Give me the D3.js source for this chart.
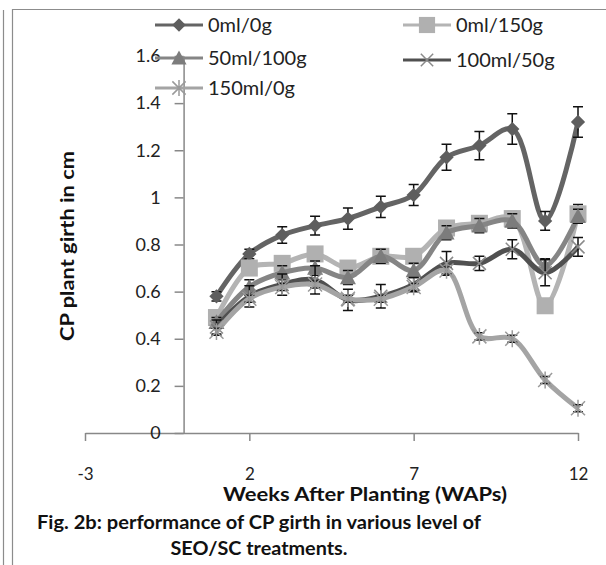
<!DOCTYPE html>
<html><head><meta charset="utf-8">
<script src="https://cdn.jsdelivr.net/npm/d3@7"></script>
<style>body{margin:0;background:#fff}svg{display:block}text{font-family:Lato,"Noto Sans",sans-serif}</style>
</head><body>
<script>
const weeks = [1,2,3,4,5,6,7,8,9,10,11,12];
const seriesNames = ["0ml/0g","0ml/150g","50ml/100g","100ml/50g","150ml/0g"];
const v0ml0g    = [0.58,0.76,0.84,0.88,0.91,0.96,1.01,1.17,1.22,1.29,0.90,1.32];
const e0ml0g    = [0.02,0.02,0.035,0.04,0.045,0.045,0.045,0.055,0.06,0.065,0.04,0.065];
const v0ml150g  = [0.49,0.70,0.72,0.76,0.70,0.75,0.75,0.87,0.89,0.91,0.54,0.93];
const e0ml150g  = [0.02,0.03,0.03,0.03,0.03,0.03,0.03,0.03,0.03,0.03,0.03,0.04];
const v50ml100g = [0.47,0.62,0.68,0.70,0.66,0.75,0.69,0.85,0.88,0.90,0.71,0.92];
const e50ml100g = [0.02,0.03,0.03,0.03,0.03,0.03,0.03,0.03,0.03,0.03,0.03,0.03];
const v100ml50g = [0.45,0.58,0.63,0.65,0.565,0.58,0.63,0.72,0.72,0.78,0.68,0.79];
const e100ml50g = [0.03,0.045,0.045,0.06,0.045,0.05,0.03,0.05,0.03,0.04,0.055,0.04];
const v150ml0g  = [0.43,0.57,0.62,0.63,0.57,0.57,0.62,0.69,0.41,0.40,0.225,0.105];
const e150ml0g  = [0.015,0.015,0.015,0.015,0.015,0.015,0.015,0.015,0.015,0.015,0.015,0.015];
const xTicks = [-3,2,7,12];
const yTicks = [0,0.2,0.4,0.6,0.8,1,1.2,1.4,1.6];
const xTitle = "Weeks After Planting (WAPs)";
const yTitle = "CP plant girth in cm";
const caption = ["Fig. 2b: performance of CP girth in various level of","SEO/SC treatments."];

const values = [v0ml0g,v0ml150g,v50ml100g,v100ml50g,v150ml0g];
const errors = [e0ml0g,e0ml150g,e50ml100g,e100ml50g,e150ml0g];
const styles = [
  {line:"#646464", marker:"diamond", fill:"#5e5e5e"},
  {line:"#b4b4b4", marker:"square", fill:"#b0b0b0"},
  {line:"#858585", marker:"triangle", fill:"#7c7c7c"},
  {line:"#505050", marker:"x", fill:"#8a8a8a"},
  {line:"#a4a4a4", marker:"star", fill:"#9a9a9a"}
];

const W=606,H=565;
const svg=d3.select("body").append("svg").attr("width",W).attr("height",H);

// frame
svg.append("line").attr("x1",3.5).attr("x2",3.5).attr("y1",10).attr("y2",H).attr("stroke","#8c8c8c").attr("stroke-width",1.2);
svg.append("path").attr("d",`M12.5,${H}V9.5H${W}`).attr("fill","none").attr("stroke","#8c8c8c").attr("stroke-width",1.2);

const x=d3.scaleLinear().domain([-3,12]).range([85,578]);
const y=d3.scaleLinear().domain([0,1.6]).range([433,56]);

// x axis
const gx=svg.append("g").attr("transform",`translate(0,${y(0)})`)
  .call(d3.axisBottom(x).tickValues(xTicks).tickSize(8).tickSizeOuter(0).tickFormat(d=>String(d)));
gx.selectAll("text").attr("y",35).attr("dy","0.71em").attr("font-size",17).attr("fill","#222").style("font-family","Lato");
// y axis
const gy=svg.append("g").attr("transform",`translate(${x(0)},0)`)
  .call(d3.axisLeft(y).tickValues(yTicks).tickSize(9).tickSizeOuter(0).tickFormat(d=>String(+d.toFixed(1))));
gy.selectAll("text").attr("x",-23).attr("font-size",18).attr("fill","#222").style("font-family","Lato");
[gx,gy].forEach(g=>{g.selectAll("path,line").attr("stroke","#888").attr("stroke-width",1.5);});

// titles
svg.append("text").attr("x",365).attr("y",501).attr("text-anchor","middle")
  .attr("font-size",18).attr("font-weight","bold").attr("fill","#111")
  .attr("textLength",284).attr("lengthAdjust","spacingAndGlyphs").text(xTitle);
svg.append("text").attr("transform","translate(74,246) rotate(-90)").attr("text-anchor","middle")
  .attr("font-size",19).attr("font-weight","bold").attr("fill","#111")
  .attr("textLength",190).attr("lengthAdjust","spacingAndGlyphs").text(yTitle);
const capLen=[444,177];
caption.forEach((c,i)=>svg.append("text").attr("x",259).attr("y",529+i*26).attr("text-anchor","middle")
  .attr("font-size",18).attr("font-weight","bold").attr("fill","#111")
  .attr("textLength",capLen[i]).attr("lengthAdjust","spacingAndGlyphs").text(c));

function drawMarker(g,type,cx,cy,st,scale){
  const s=scale||1;
  if(type==="diamond"){
    g.append("path").attr("d",d3.symbol(d3.symbolDiamond2?d3.symbolDiamond2:d3.symbolDiamond,130*s*s)()).attr("transform",`translate(${cx},${cy})`).attr("fill",st.fill);
  } else if(type==="square"){
    const h=8.5*s; g.append("rect").attr("x",cx-h).attr("y",cy-h).attr("width",2*h).attr("height",2*h).attr("fill",st.fill);
  } else if(type==="triangle"){
    const h=8*s; g.append("path").attr("d",`M${cx},${cy-h}L${cx+h},${cy+h*0.85}L${cx-h},${cy+h*0.85}Z`).attr("fill",st.fill);
  } else if(type==="x"){
    const h=6.5*s; g.append("path").attr("d",`M${cx-h},${cy-h}L${cx+h},${cy+h}M${cx-h},${cy+h}L${cx+h},${cy-h}`).attr("stroke",st.fill).attr("stroke-width",1.5);
  } else if(type==="star"){
    const h=7*s; g.append("path").attr("d",`M${cx-h},${cy-h}L${cx+h},${cy+h}M${cx-h},${cy+h}L${cx+h},${cy-h}M${cx},${cy-h*1.2}L${cx},${cy+h*1.2}`).attr("stroke",st.fill).attr("stroke-width",1.5);
  }
}

const lineGen=d3.line().x((d,i)=>x(weeks[i])).y(d=>y(d)).curve(d3.curveCatmullRom.alpha(0.5));
values.forEach((vals,k)=>{
  const st=styles[k];
  const g=svg.append("g");
  g.append("path").attr("d",lineGen(vals)).attr("fill","none").attr("stroke",st.line).attr("stroke-width",5).attr("stroke-linejoin","round");
  vals.forEach((v,i)=>{
    const cx=x(weeks[i]), e=errors[k][i];
    g.append("path").attr("d",`M${cx},${y(v+e)}V${y(v-e)}M${cx-5},${y(v+e)}H${cx+5}M${cx-5},${y(v-e)}H${cx+5}`)
      .attr("stroke","#111").attr("stroke-width",1.5).attr("fill","none");
  });
  vals.forEach((v,i)=>drawMarker(g,st.marker,x(weeks[i]),y(v),st));
});

// legend
const legPos=[[155,25],[403,25],[155,58],[403,60],[155,88]];
seriesNames.forEach((n,k)=>{
  const [lx,ly]=legPos[k], st=styles[k];
  const g=svg.append("g");
  g.append("line").attr("x1",lx).attr("x2",lx+48).attr("y1",ly).attr("y2",ly).attr("stroke",st.line).attr("stroke-width",3);
  drawMarker(g,st.marker,lx+24,ly,st,0.95);
  g.append("text").attr("x",lx+53).attr("y",ly).attr("dy","0.36em").attr("font-size",20).attr("fill","#222").text(n);
});
</script>
</body></html>
